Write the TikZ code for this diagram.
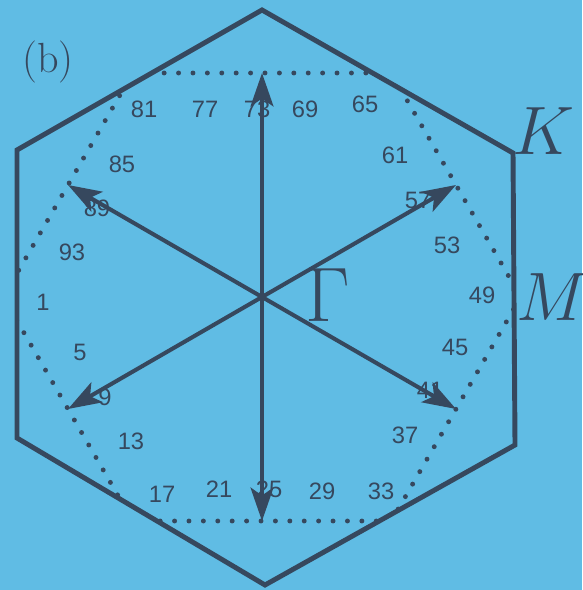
\RequirePackage{fix-cm}
\documentclass[tikz,border=0pt]{standalone}
\usepackage{fontspec}
\usepackage{xcolor}
\usepackage{tikz}
\usetikzlibrary{arrows.meta,calc}
\newfontfamily\numfont{Liberation Sans}
\definecolor{slide}{RGB}{96,188,228}
\definecolor{ink}{RGB}{54,72,94}

\begin{document}
\begin{tikzpicture}[
    x=0.02cm, y=-0.02cm,
    edge/.style={draw=ink, line width=2.8pt, line join=miter},
    dots/.style={draw=ink, line width=2.8pt, line cap=round, dash pattern=on 0pt off 8.2pt},
    arrow/.style={-{Stealth[length=19pt,width=13pt,inset=4.5pt]}, draw=ink, line width=2.3pt},
    num/.style={font=\numfont\fontsize{13.5}{15}\selectfont, text=ink, inner sep=0pt},
    point/.style={font=\fontsize{39}{40}\selectfont, text=ink, inner sep=0pt, anchor=west}
]
    % background
    \fill[slide] (0,0) rectangle (582,590);
    \useasboundingbox (0,0) rectangle (582,590);

    % zone corners
    \coordinate (G) at (262,297);
    \coordinate (top) at (262,10);
    \coordinate (ur) at (513,153);
    \coordinate (lr) at (515,445);
    \coordinate (bot) at (265,585);
    \coordinate (ll) at (17,438);
    \coordinate (ul) at (17,150);

    % numbers along the inner zone
    \foreach \n/\x/\y in {1/43/302, 5/80/352, 9/105/397, 13/131/441, 17/162/494, 21/219/489,
        25/269/489, 29/322/491, 33/381/491, 37/405/435, 41/430/390, 45/455/347,
        49/482/295, 53/447/245, 57/418/200, 61/395/155, 65/365/104, 69/305/109,
        73/257/109, 77/205/109, 81/144/109, 85/122/164, 89/97/208, 93/72/252}
        \node[num] (n\n) at (\x,\y) {\n};

    % inner zone, cut by the outer one
    \begin{scope}
        \clip (top) -- (ur) -- (lr) -- (bot) -- (ll) -- (ul) -- cycle;
        \draw[dots] ($(G)+(258.7,0)$) -- ($(G)+(129.3,224)$) -- ($(G)+(-129.3,224)$)
            -- ($(G)+(-258.7,0)$) -- ($(G)+(-129.3,-224)$) -- ($(G)+(129.3,-224)$) -- cycle;
    \end{scope}

    % outer zone
    \draw[edge] (top) -- (ur) -- (lr) -- (bot) -- (ll) -- (ul) -- cycle;

    % arrows from Gamma
    \foreach \a in {30,90,150,210,270,330}
        \draw[arrow] (G) -- ($(G)+(\a:224)$);

    % labels
    \node[font=\fontsize{24}{26}\selectfont, text=ink] (tag) at (48,62) {(b)};
    \node[font=\fontsize{44}{46}\selectfont, text=ink, inner sep=0pt, anchor=west] (gamma) at (305,295) {$\Gamma$};
    \node[point] (kpt) at (512,131) {$K$};
    \node[point] (mpt) at (516,297) {$M$};
\end{tikzpicture}
\end{document}
